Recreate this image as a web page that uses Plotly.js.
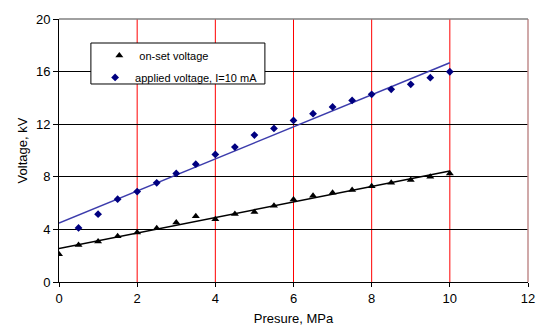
<!DOCTYPE html>
<html>
<head>
<meta charset="utf-8">
<script src="https://cdn.plot.ly/plotly-3.0.1.min.js"></script>
<style>html,body{margin:0;padding:0;background:#fff;}#chart{width:540px;height:327px;}</style>
</head>
<body>
<div id="chart"></div>
<script>
// Data
const pressureOnset = [0, 0.5, 1, 1.5, 2, 2.5, 3, 3.5, 4, 4.5, 5, 5.5, 6, 6.5, 7, 7.5, 8, 8.5, 9, 9.5, 10];
const onsetVoltage = [2.11, 2.82, 3.08, 3.48, 3.76, 4.09, 4.52, 5.0, 4.78, 5.18, 5.33, 5.79, 6.27, 6.55, 6.78, 7.0, 7.29, 7.54, 7.75, 8.0, 8.26];
const pressureApplied = [0.5, 1, 1.5, 2, 2.5, 3, 3.5, 4, 4.5, 5, 5.5, 6, 6.5, 7, 7.5, 8, 8.5, 9, 9.5, 10];
const appliedVoltage = [4.11, 5.16, 6.3, 6.88, 7.54, 8.26, 8.96, 9.70, 10.26, 11.17, 11.68, 12.29, 12.80, 13.31, 13.81, 14.27, 14.65, 15.03, 15.54, 15.99];
const seriesNames = ["on-set voltage", "applied voltage, I=10 mA"];
const trendRange = [0, 10];
const xTicks = [0, 2, 4, 6, 8, 10, 12];
const yTicks = [0, 4, 8, 12, 16, 20];

// least-squares linear trendline (as in a spreadsheet trendline)
function fit(xs, ys) {
  const n = xs.length;
  const mx = xs.reduce((a, b) => a + b, 0) / n;
  const my = ys.reduce((a, b) => a + b, 0) / n;
  let sxy = 0, sxx = 0;
  for (let i = 0; i < n; i++) { sxy += (xs[i] - mx) * (ys[i] - my); sxx += (xs[i] - mx) ** 2; }
  const b = sxy / sxx, a = my - b * mx;
  return trendRange.map(x => a + b * x);
}

const font = "Liberation Sans, Arial, sans-serif";
const traces = [
  {x: trendRange, y: fit(pressureOnset, onsetVoltage), mode: "lines", line: {color: "#000000", width: 1.5}, showlegend: false, hoverinfo: "skip"},
  {x: trendRange, y: fit(pressureApplied, appliedVoltage), mode: "lines", line: {color: "#3c3cac", width: 1.5}, showlegend: false, hoverinfo: "skip"},
  {x: pressureOnset, y: onsetVoltage, name: seriesNames[0], mode: "markers", legend: "legend",
   marker: {symbol: "triangle-up", color: "#000000", size: 7}},
  {x: pressureApplied, y: appliedVoltage, name: seriesNames[1], mode: "markers", legend: "legend2",
   marker: {symbol: "diamond", color: "#000080", size: 6}}
];

// vertical red grid lines drawn as layout shapes
const vgrid = xTicks.slice(1, -1).map(v => ({type: "line", xref: "x", yref: "paper", x0: v, x1: v, y0: 0, y1: 1,
  line: {color: "#ff0000", width: 1}, layer: "below"}));

const legendBase = {xanchor: "left", yanchor: "top", bgcolor: "rgba(0,0,0,0)", borderwidth: 0,
  font: {family: font, size: 11, color: "#000"}, itemwidth: 30};

const layout = {
  width: 540, height: 327,
  margin: {l: 59, r: 12, t: 19, b: 45},
  paper_bgcolor: "#ffffff", plot_bgcolor: "#ffffff",
  font: {family: font, color: "#000000", size: 13},
  showlegend: true,
  legend: Object.assign({x: 0.086, y: 0.916}, legendBase),
  legend2: Object.assign({x: 0.077, y: 0.833}, legendBase),
  xaxis: {range: [0, 12], tickvals: xTicks, ticktext: xTicks.map(String), showgrid: false,
          showline: true, linecolor: "#000000", linewidth: 1, ticks: "outside", ticklen: 4, tickcolor: "#000",
          zeroline: false, tickfont: {size: 13}, title: {text: "Presure, MPa", font: {size: 13}, standoff: 9}, fixedrange: true},
  yaxis: {range: [0, 20], tickvals: yTicks, ticktext: yTicks.map(String), showgrid: true, gridcolor: "#000000", gridwidth: 1,
          showline: true, linecolor: "#000000", linewidth: 1, ticks: "outside", ticklen: 5, tickcolor: "#000",
          zeroline: false, tickfont: {size: 13}, title: {text: "Voltage, kV", font: {size: 13}, standoff: 5}, fixedrange: true},
  shapes: vgrid.concat([
    {type: "line", xref: "paper", yref: "paper", x0: 1, x1: 1, y0: 0, y1: 1, line: {color: "#c08c8c", width: 1.5}},
    {type: "line", xref: "paper", yref: "paper", x0: 0, x1: 1, y0: 1, y1: 1, line: {color: "#808080", width: 1.5}},
    {type: "rect", xref: "paper", yref: "paper", x0: 0.068, x1: 0.439, y0: 0.7529, y1: 0.9087,
     line: {color: "#000000", width: 1}, fillcolor: "#ffffff", layer: "above"}
  ])
};

Plotly.newPlot("chart", traces, layout, {staticPlot: true, displayModeBar: false});
</script>
</body>
</html>
